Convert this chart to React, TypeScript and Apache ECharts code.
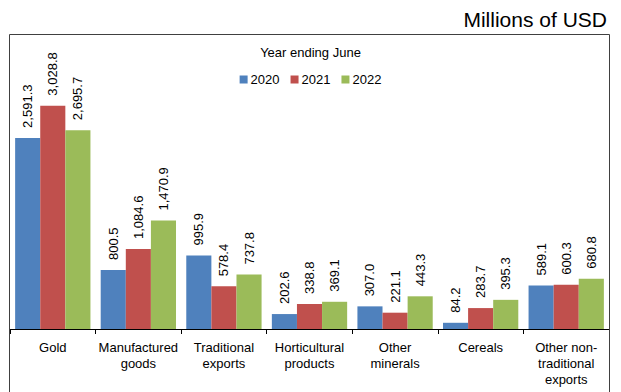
import React, { useEffect, useRef } from "react";
import * as echarts from "echarts";

const categories = [
  "Gold",
  "Manufactured\ngoods",
  "Traditional\nexports",
  "Horticultural\nproducts",
  "Other\nminerals",
  "Cereals",
  "Other non-\ntraditional\nexports",
];
const seriesNames = ["2020", "2021", "2022"];
const values2020 = [2591.3, 800.5, 995.9, 202.6, 307.0, 84.2, 589.1];
const values2021 = [3028.8, 1084.6, 578.4, 338.8, 221.1, 283.7, 600.3];
const values2022 = [2695.7, 1470.9, 737.8, 369.1, 443.3, 395.3, 680.8];
const colors = ["#4F81BD", "#C0504D", "#9BBB59"];

const FONT = "'Liberation Sans', Arial, sans-serif";

export default function App() {
  const ref = useRef<HTMLDivElement>(null);
  useEffect(() => {
    document.body.style.margin = "0";
    if (!ref.current) return;
    const chart = echarts.init(ref.current, null, { renderer: "svg" });
    const fmt = (p: any) =>
      Number(p.value).toLocaleString("en-US", {
        minimumFractionDigits: 1,
        maximumFractionDigits: 1,
      });
    const allValues = [values2020, values2021, values2022];
    chart.setOption({
      animation: false,
      textStyle: { fontFamily: FONT },
      title: {
        text: "Year ending June",
        left: "center",
        top: 41,
        textStyle: { fontSize: 13, fontWeight: "normal", color: "#000", fontFamily: FONT },
      },
      legend: {
        data: seriesNames,
        top: 68,
        left: "center",
        icon: "rect",
        itemWidth: 8,
        itemHeight: 8,
        itemGap: 11,
        textStyle: { fontSize: 13, color: "#000", fontFamily: FONT, padding: [0, 0, 0, -2] },
      },
      grid: { left: 10, right: 12, top: 34, bottom: 63 },
      xAxis: {
        type: "category",
        data: categories,
        axisLine: { lineStyle: { color: "#000", width: 1 } },
        axisTick: { show: true, length: 5, lineStyle: { color: "#000" } },
        axisLabel: {
          color: "#000",
          fontSize: 13,
          lineHeight: 16,
          margin: 10,
          interval: 0,
          fontFamily: FONT,
        },
      },
      yAxis: { type: "value", min: 0, max: 4000, show: false, splitLine: { show: false } },
      series: seriesNames.map((name, i) => ({
        name,
        type: "bar",
        data: allValues[i],
        barGap: "0%",
        barCategoryGap: "12%",
        itemStyle: { color: colors[i] },
        label: {
          show: true,
          position: "top",
          rotate: 90,
          align: "left",
          verticalAlign: "middle",
          distance: 10,
          fontSize: 13,
          color: "#000",
          fontFamily: FONT,
          formatter: fmt,
        },
      })),
      graphic: [
        {
          type: "rect",
          shape: { x: 9.5, y: 34.5, width: 600, height: 400 },
          style: { fill: "none", stroke: "#404040", lineWidth: 1 },
          silent: true,
          z: 100,
        },
        {
          type: "text",
          right: 14,
          top: 9,
          style: { text: "Millions of USD", fontSize: 21, fill: "#000", fontFamily: FONT },
        },
      ],
    });
    return () => chart.dispose();
  }, []);
  return <div ref={ref} style={{ width: 621, height: 392 }} />;
}
